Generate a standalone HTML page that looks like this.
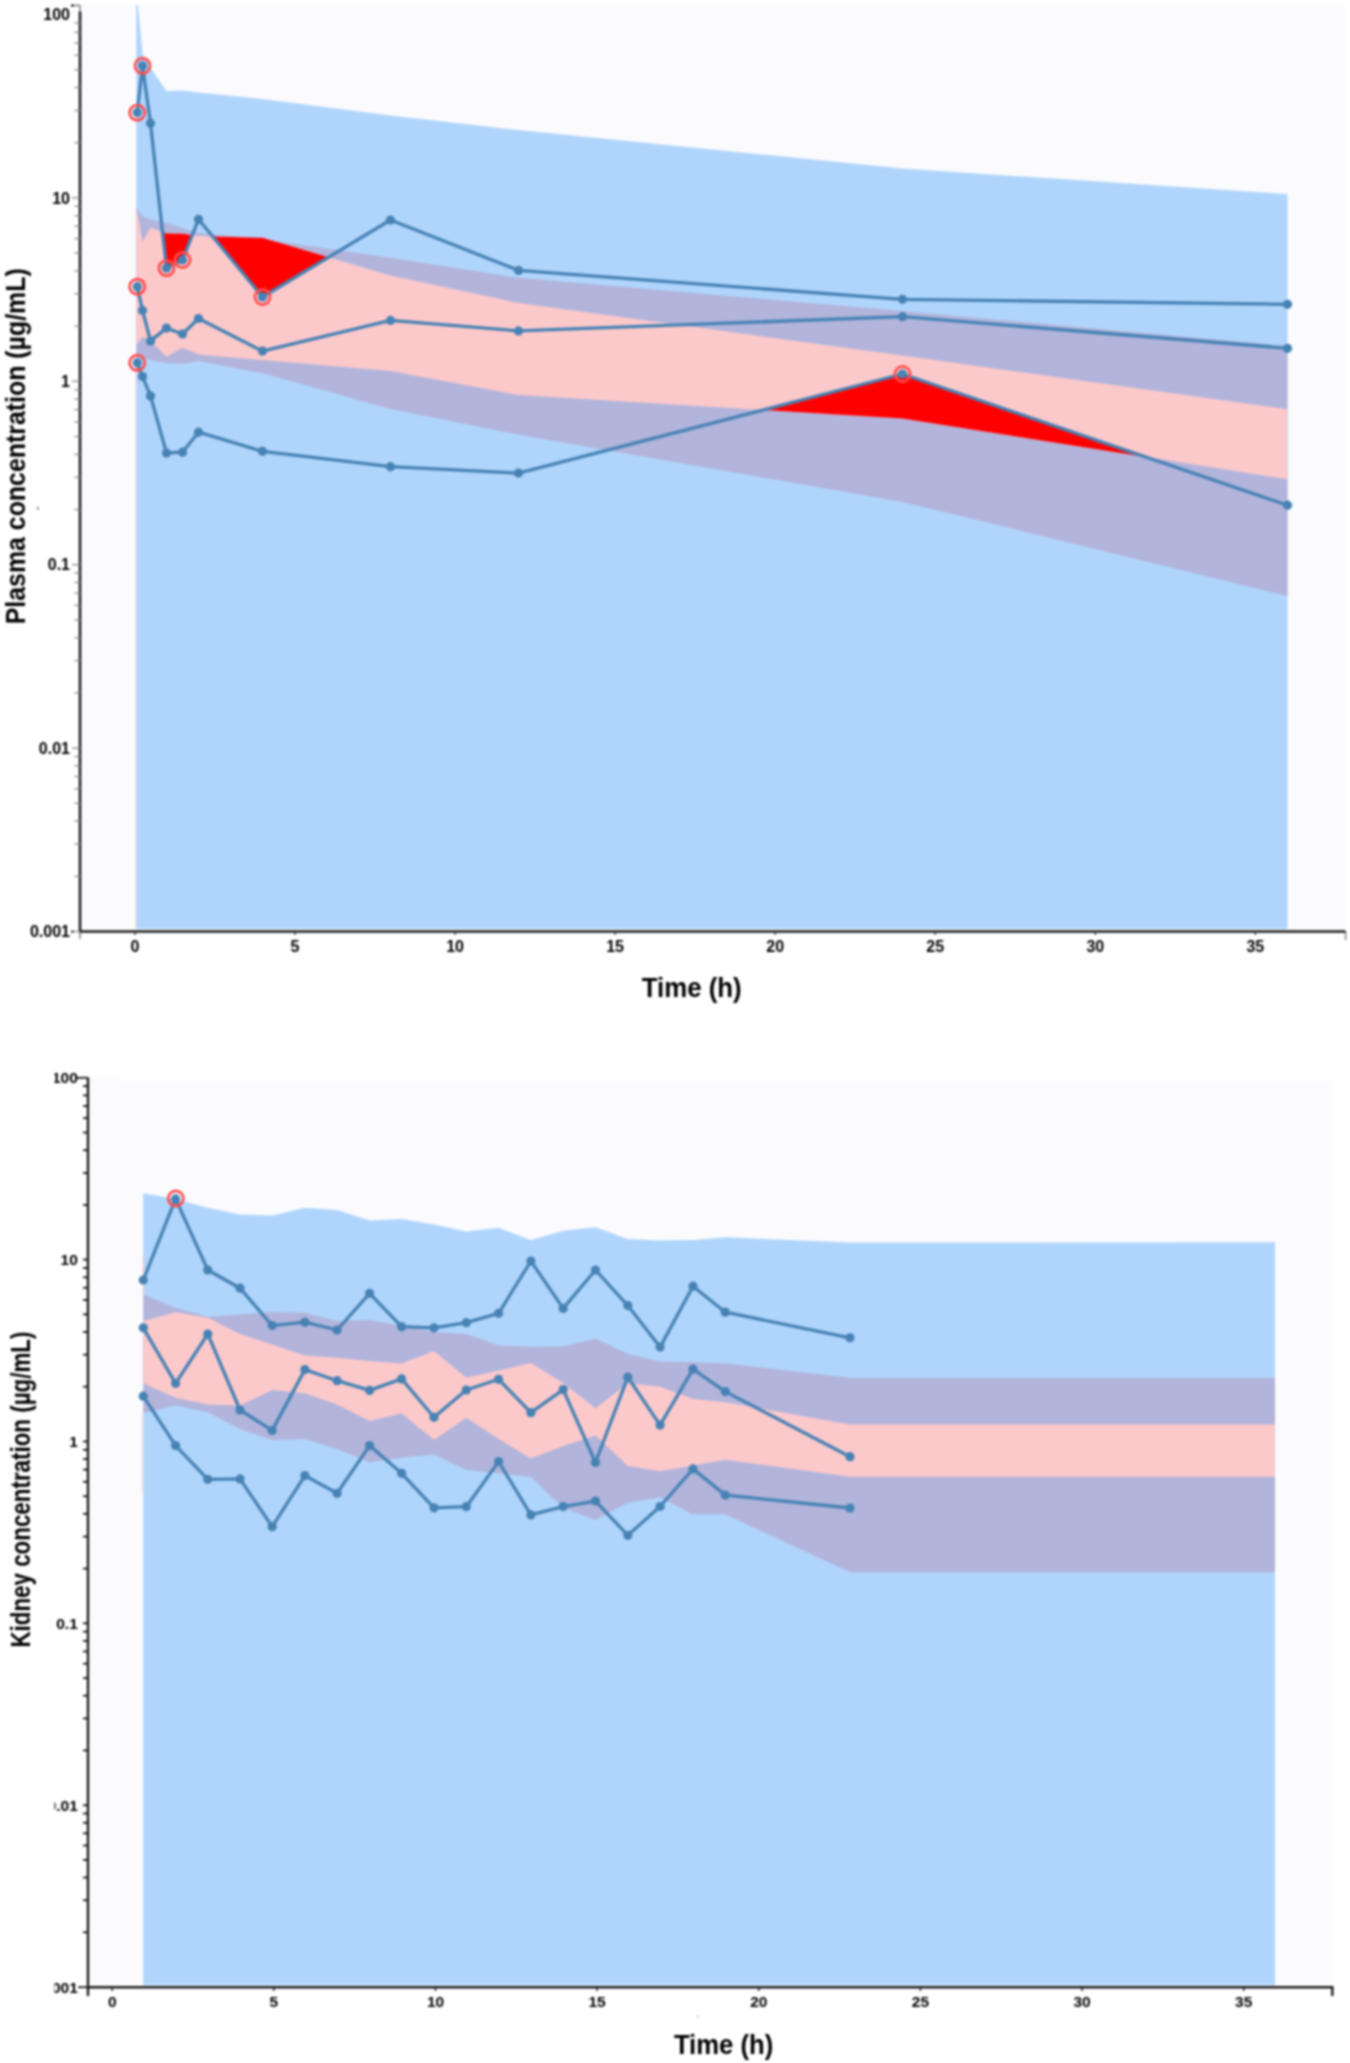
<!DOCTYPE html><html><head><meta charset="utf-8"><style>html,body{margin:0;padding:0;background:#fff;width:1350px;height:2063px;overflow:hidden}svg{display:block;filter:blur(0.9px)}text{font-family:"Liberation Sans",sans-serif}</style></head><body>
<svg width="1350" height="2063" viewBox="0 0 1350 2063">
<rect x="0" y="0" width="1350" height="2063" fill="#ffffff"/>
<rect x="81.5" y="4.5" width="1264" height="925" fill="#fbfbfe"/>
<defs>
<clipPath id="c1up"><polygon points="136.3,2.0 137.2,-4.0 142.5,54.5 150.5,67.8 166.5,91.0 182.5,90.5 198.5,92.5 262.5,98.9 390.5,115.6 518.5,130.0 902.5,168.5 1287.5,194.1 1287.5,409.3 902.5,355.6 518.5,303.0 390.5,275.6 262.5,237.8 198.5,236.0 182.5,233.8 166.5,233.5 150.5,227.6 142.5,242.0 137.2,212.0 136.3,207.0"/></clipPath>
<clipPath id="c1lo"><polygon points="136.3,344.0 137.2,344.0 142.5,336.7 150.5,340.4 166.5,356.7 182.5,347.8 198.5,354.4 262.5,360.0 390.5,371.1 518.5,395.0 902.5,418.5 1287.5,479.3 1287.5,929.0 902.5,929.0 518.5,929.0 390.5,929.0 262.5,929.0 198.5,929.0 182.5,929.0 166.5,929.0 150.5,929.0 142.5,929.0 137.2,929.0 136.3,929.0"/></clipPath>
<clipPath id="c1mid"><polygon points="136.3,207.0 137.2,212.0 142.5,242.0 150.5,227.6 166.5,233.5 182.5,233.8 198.5,236.0 262.5,237.8 390.5,275.6 518.5,303.0 902.5,355.6 1287.5,409.3 1287.5,479.3 902.5,418.5 518.5,395.0 390.5,371.1 262.5,360.0 198.5,354.4 182.5,347.8 166.5,356.7 150.5,340.4 142.5,336.7 137.2,344.0 136.3,344.0"/></clipPath>
<clipPath id="c1area"><rect x="81.5" y="4.5" width="1264" height="925"/></clipPath>
<clipPath id="c1belowU"><polygon points="136.3,207.0 137.2,212.0 142.5,242.0 150.5,227.6 166.5,233.5 182.5,233.8 198.5,236.0 262.5,237.8 390.5,275.6 518.5,303.0 902.5,355.6 1287.5,409.3 1287.5,929.0 902.5,929.0 518.5,929.0 390.5,929.0 262.5,929.0 198.5,929.0 182.5,929.0 166.5,929.0 150.5,929.0 142.5,929.0 137.2,929.0 136.3,929.0"/></clipPath>
<clipPath id="c1aboveL"><polygon points="136.3,0.0 137.2,0.0 142.5,0.0 150.5,0.0 166.5,0.0 182.5,0.0 198.5,0.0 262.5,0.0 390.5,0.0 518.5,0.0 902.5,0.0 1287.5,0.0 1287.5,479.3 902.5,418.5 518.5,395.0 390.5,371.1 262.5,360.0 198.5,354.4 182.5,347.8 166.5,356.7 150.5,340.4 142.5,336.7 137.2,344.0 136.3,344.0"/></clipPath>
</defs>
<g clip-path="url(#c1area)">
<polygon points="136.3,2.0 137.2,-4.0 142.5,54.5 150.5,67.8 166.5,91.0 182.5,90.5 198.5,92.5 262.5,98.9 390.5,115.6 518.5,130.0 902.5,168.5 1287.5,194.1 1287.5,929.0 902.5,929.0 518.5,929.0 390.5,929.0 262.5,929.0 198.5,929.0 182.5,929.0 166.5,929.0 150.5,929.0 142.5,929.0 137.2,929.0 136.3,929.0" fill="#b0d5fc"/>
<polygon points="136.3,207.0 137.2,209.0 142.5,216.0 150.5,219.4 166.5,223.0 182.5,228.3 198.5,233.0 262.5,239.0 390.5,257.8 518.5,277.8 902.5,311.0 1287.5,346.0 1287.5,596.0 902.5,501.9 518.5,434.8 390.5,408.9 262.5,373.3 198.5,361.1 182.5,364.0 166.5,363.3 150.5,360.0 142.5,358.0 137.2,356.7 136.3,356.7" fill="#b2b4db"/>
<polygon points="136.3,207.0 137.2,209.0 142.5,216.0 150.5,219.4 166.5,223.0 182.5,228.3 198.5,233.0 262.5,239.0 390.5,257.8 518.5,277.8 902.5,311.0 1287.5,346.0 1287.5,596.0 902.5,501.9 518.5,434.8 390.5,408.9 262.5,373.3 198.5,361.1 182.5,364.0 166.5,363.3 150.5,360.0 142.5,358.0 137.2,356.7 136.3,356.7" fill="#fcc9cb" clip-path="url(#c1mid)"/>
<rect x="135.2" y="356" width="1.3" height="573" fill="#fcc9cb" opacity="0.7"/>
<polygon points="162.52,232.03 166.50,268.10 182.50,260.00 192.27,235.14 192.27,235.14 182.50,233.80 166.50,233.50 162.52,232.03" fill="#ff0000"/>
<polygon points="212.58,236.40 262.50,297.00 328.51,257.29 328.51,257.29 262.50,237.80 212.58,236.40" fill="#ff0000"/>
<polygon points="763.12,409.97 902.50,374.00 1145.86,456.93 1145.86,456.93 902.50,418.50 763.12,409.97" fill="#ff0000"/>
</g>
<polyline points="137.2,112.6 142.5,65.8 150.5,123.2 166.5,268.1 182.5,260.0 198.5,219.3 262.5,297.0 390.5,220.0 518.5,270.4 902.5,299.3 1287.5,304.3" fill="none" stroke="#4682b4" stroke-width="3.3" stroke-linejoin="round"/><circle cx="137.2" cy="112.6" r="4.6" fill="#4682b4"/><circle cx="142.5" cy="65.8" r="4.6" fill="#4682b4"/><circle cx="150.5" cy="123.2" r="4.6" fill="#4682b4"/><circle cx="166.5" cy="268.1" r="4.6" fill="#4682b4"/><circle cx="182.5" cy="260.0" r="4.6" fill="#4682b4"/><circle cx="198.5" cy="219.3" r="4.6" fill="#4682b4"/><circle cx="262.5" cy="297.0" r="4.6" fill="#4682b4"/><circle cx="390.5" cy="220.0" r="4.6" fill="#4682b4"/><circle cx="518.5" cy="270.4" r="4.6" fill="#4682b4"/><circle cx="902.5" cy="299.3" r="4.6" fill="#4682b4"/><circle cx="1287.5" cy="304.3" r="4.6" fill="#4682b4"/>
<polyline points="137.2,286.7 142.5,310.4 150.5,340.9 166.5,328.1 182.5,334.0 198.5,318.5 262.5,351.1 390.5,320.4 518.5,330.9 902.5,316.7 1287.5,348.3" fill="none" stroke="#4682b4" stroke-width="3.3" stroke-linejoin="round"/><circle cx="137.2" cy="286.7" r="4.6" fill="#4682b4"/><circle cx="142.5" cy="310.4" r="4.6" fill="#4682b4"/><circle cx="150.5" cy="340.9" r="4.6" fill="#4682b4"/><circle cx="166.5" cy="328.1" r="4.6" fill="#4682b4"/><circle cx="182.5" cy="334.0" r="4.6" fill="#4682b4"/><circle cx="198.5" cy="318.5" r="4.6" fill="#4682b4"/><circle cx="262.5" cy="351.1" r="4.6" fill="#4682b4"/><circle cx="390.5" cy="320.4" r="4.6" fill="#4682b4"/><circle cx="518.5" cy="330.9" r="4.6" fill="#4682b4"/><circle cx="902.5" cy="316.7" r="4.6" fill="#4682b4"/><circle cx="1287.5" cy="348.3" r="4.6" fill="#4682b4"/>
<polyline points="137.2,362.8 142.5,376.5 150.5,395.9 166.5,453.0 182.5,452.2 198.5,432.2 262.5,451.3 390.5,466.7 518.5,473.1 902.5,374.0 1287.5,505.2" fill="none" stroke="#4682b4" stroke-width="3.3" stroke-linejoin="round"/><circle cx="137.2" cy="362.8" r="4.6" fill="#4682b4"/><circle cx="142.5" cy="376.5" r="4.6" fill="#4682b4"/><circle cx="150.5" cy="395.9" r="4.6" fill="#4682b4"/><circle cx="166.5" cy="453.0" r="4.6" fill="#4682b4"/><circle cx="182.5" cy="452.2" r="4.6" fill="#4682b4"/><circle cx="198.5" cy="432.2" r="4.6" fill="#4682b4"/><circle cx="262.5" cy="451.3" r="4.6" fill="#4682b4"/><circle cx="390.5" cy="466.7" r="4.6" fill="#4682b4"/><circle cx="518.5" cy="473.1" r="4.6" fill="#4682b4"/><circle cx="902.5" cy="374.0" r="4.6" fill="#4682b4"/><circle cx="1287.5" cy="505.2" r="4.6" fill="#4682b4"/>
<circle cx="137.2" cy="112.6" r="7.6" fill="none" stroke="#ff4d4d" stroke-width="2.7"/>
<circle cx="142.5" cy="65.8" r="7.6" fill="none" stroke="#ff4d4d" stroke-width="2.7"/>
<circle cx="166.5" cy="268.1" r="7.6" fill="none" stroke="#ff4d4d" stroke-width="2.7"/>
<circle cx="182.5" cy="260.0" r="7.6" fill="none" stroke="#ff4d4d" stroke-width="2.7"/>
<circle cx="262.5" cy="297.0" r="7.6" fill="none" stroke="#ff4d4d" stroke-width="2.7"/>
<circle cx="137.2" cy="286.7" r="7.6" fill="none" stroke="#ff4d4d" stroke-width="2.7"/>
<circle cx="137.2" cy="362.8" r="7.6" fill="none" stroke="#ff4d4d" stroke-width="2.7"/>
<circle cx="902.5" cy="374.0" r="7.6" fill="none" stroke="#ff4d4d" stroke-width="2.7"/>
<g fill="none">
<path d="M72,5.5 H80 V13" stroke="#777" stroke-width="1.3"/>
<circle cx="72.3" cy="5.5" r="1.3" fill="#111"/>
<path d="M80,11.5 V931.6" stroke="#1a1a1a" stroke-width="2.5"/>
<path d="M74.5,142.7 H80" stroke="#888" stroke-width="1.3"/>
<path d="M74.5,110.4 H80" stroke="#888" stroke-width="1.3"/>
<path d="M74.5,87.5 H80" stroke="#888" stroke-width="1.3"/>
<path d="M74.5,69.7 H80" stroke="#888" stroke-width="1.3"/>
<path d="M74.5,55.2 H80" stroke="#888" stroke-width="1.3"/>
<path d="M74.5,42.9 H80" stroke="#888" stroke-width="1.3"/>
<path d="M74.5,32.3 H80" stroke="#888" stroke-width="1.3"/>
<path d="M74.5,22.9 H80" stroke="#888" stroke-width="1.3"/>
<path d="M74.5,326.1 H80" stroke="#888" stroke-width="1.3"/>
<path d="M74.5,293.8 H80" stroke="#888" stroke-width="1.3"/>
<path d="M74.5,270.9 H80" stroke="#888" stroke-width="1.3"/>
<path d="M74.5,253.1 H80" stroke="#888" stroke-width="1.3"/>
<path d="M74.5,238.6 H80" stroke="#888" stroke-width="1.3"/>
<path d="M74.5,226.3 H80" stroke="#888" stroke-width="1.3"/>
<path d="M74.5,215.7 H80" stroke="#888" stroke-width="1.3"/>
<path d="M74.5,206.3 H80" stroke="#888" stroke-width="1.3"/>
<path d="M74.5,509.5 H80" stroke="#888" stroke-width="1.3"/>
<path d="M74.5,477.2 H80" stroke="#888" stroke-width="1.3"/>
<path d="M74.5,454.3 H80" stroke="#888" stroke-width="1.3"/>
<path d="M74.5,436.5 H80" stroke="#888" stroke-width="1.3"/>
<path d="M74.5,422.0 H80" stroke="#888" stroke-width="1.3"/>
<path d="M74.5,409.7 H80" stroke="#888" stroke-width="1.3"/>
<path d="M74.5,399.1 H80" stroke="#888" stroke-width="1.3"/>
<path d="M74.5,389.7 H80" stroke="#888" stroke-width="1.3"/>
<path d="M74.5,692.9 H80" stroke="#888" stroke-width="1.3"/>
<path d="M74.5,660.6 H80" stroke="#888" stroke-width="1.3"/>
<path d="M74.5,637.7 H80" stroke="#888" stroke-width="1.3"/>
<path d="M74.5,619.9 H80" stroke="#888" stroke-width="1.3"/>
<path d="M74.5,605.4 H80" stroke="#888" stroke-width="1.3"/>
<path d="M74.5,593.1 H80" stroke="#888" stroke-width="1.3"/>
<path d="M74.5,582.5 H80" stroke="#888" stroke-width="1.3"/>
<path d="M74.5,573.1 H80" stroke="#888" stroke-width="1.3"/>
<path d="M74.5,876.3 H80" stroke="#888" stroke-width="1.3"/>
<path d="M74.5,844.0 H80" stroke="#888" stroke-width="1.3"/>
<path d="M74.5,821.1 H80" stroke="#888" stroke-width="1.3"/>
<path d="M74.5,803.3 H80" stroke="#888" stroke-width="1.3"/>
<path d="M74.5,788.8 H80" stroke="#888" stroke-width="1.3"/>
<path d="M74.5,776.5 H80" stroke="#888" stroke-width="1.3"/>
<path d="M74.5,765.9 H80" stroke="#888" stroke-width="1.3"/>
<path d="M74.5,756.5 H80" stroke="#888" stroke-width="1.3"/>
<path d="M72,197.9 H80" stroke="#888" stroke-width="1.3"/>
<path d="M72,381.3 H80" stroke="#888" stroke-width="1.3"/>
<path d="M72,564.7 H80" stroke="#888" stroke-width="1.3"/>
<path d="M72,748.1 H80" stroke="#888" stroke-width="1.3"/>
<path d="M72,931.5 H80" stroke="#888" stroke-width="1.3"/>
<circle cx="72.3" cy="931.6" r="1.2" fill="#111"/>
<path d="M80,931.6 V939.3" stroke="#777" stroke-width="1.4"/>
<path d="M1345.6,931.6 V940" stroke="#777" stroke-width="1.4"/>
<path d="M80,931.6 H1345.6" stroke="#1a1a1a" stroke-width="2.5"/>
<path d="M135.0,931.6 V935" stroke="#333" stroke-width="1.4"/>
<path d="M295.0,931.6 V935" stroke="#333" stroke-width="1.4"/>
<path d="M455.1,931.6 V935" stroke="#333" stroke-width="1.4"/>
<path d="M615.1,931.6 V935" stroke="#333" stroke-width="1.4"/>
<path d="M775.2,931.6 V935" stroke="#333" stroke-width="1.4"/>
<path d="M935.2,931.6 V935" stroke="#333" stroke-width="1.4"/>
<path d="M1095.3,931.6 V935" stroke="#333" stroke-width="1.4"/>
<path d="M1255.3,931.6 V935" stroke="#333" stroke-width="1.4"/>
</g>
<g fill="#000000" font-size="16" font-weight="bold" text-anchor="end">
<text x="70" y="20.2">100</text>
<text x="70" y="203.6">10</text>
<text x="70" y="387.0">1</text>
<text x="70" y="570.4">0.1</text>
<text x="70" y="753.8">0.01</text>
<text x="70" y="937.2">0.001</text>
</g>
<g fill="#000000" font-size="16" font-weight="bold" text-anchor="middle">
<text x="135.0" y="951.6">0</text>
<text x="295.0" y="951.6">5</text>
<text x="455.1" y="951.6">10</text>
<text x="615.1" y="951.6">15</text>
<text x="775.2" y="951.6">20</text>
<text x="935.2" y="951.6">25</text>
<text x="1095.3" y="951.6">30</text>
<text x="1255.3" y="951.6">35</text>
</g>
<text x="691.7" y="997" font-size="27" font-weight="bold" fill="#000" text-anchor="middle" textLength="100" lengthAdjust="spacingAndGlyphs">Time (h)</text>
<text transform="translate(25.2,446.3) rotate(-90)" x="0" y="0" font-size="27" font-weight="bold" fill="#000" text-anchor="middle" textLength="356" lengthAdjust="spacingAndGlyphs">Plasma concentration (µg/mL)</text>
<rect x="91" y="1075.5" width="30" height="910" fill="#fbfbfe"/>
<rect x="91" y="1080.8" width="1241" height="904.4" fill="#fbfbfe"/>
<defs>
<clipPath id="c2up"><polygon points="143.3,1193.3 175.6,1198.9 207.8,1207.8 240.0,1214.4 272.2,1215.6 304.9,1207.8 337.1,1210.0 369.6,1220.4 401.6,1218.9 434.0,1224.4 466.3,1231.6 498.6,1227.8 530.9,1240.0 563.2,1230.7 595.5,1227.3 627.8,1238.9 660.1,1240.4 693.0,1240.0 725.3,1237.3 850.0,1242.5 1274.9,1242.2 1274.9,1424.4 850.0,1424.4 725.3,1402.2 693.0,1398.9 660.1,1386.7 627.8,1383.3 595.5,1408.2 563.2,1383.0 530.9,1363.0 498.6,1370.5 466.3,1377.8 434.0,1351.0 401.6,1363.5 369.6,1361.1 337.1,1357.8 304.9,1355.6 272.2,1344.4 240.0,1334.0 207.8,1317.8 175.6,1312.2 143.3,1321.1"/></clipPath>
<clipPath id="c2mid"><polygon points="143.3,1321.1 175.6,1312.2 207.8,1317.8 240.0,1334.0 272.2,1344.4 304.9,1355.6 337.1,1357.8 369.6,1361.1 401.6,1363.5 434.0,1351.0 466.3,1377.8 498.6,1370.5 530.9,1363.0 563.2,1383.0 595.5,1408.2 627.8,1383.3 660.1,1386.7 693.0,1398.9 725.3,1402.2 850.0,1424.4 1274.9,1424.4 1274.9,1476.7 850.0,1476.7 725.3,1459.8 693.0,1465.5 660.1,1471.3 627.8,1466.0 595.5,1435.6 563.2,1446.1 530.9,1458.5 498.6,1439.0 466.3,1417.8 434.0,1440.0 401.6,1413.3 369.6,1421.1 337.1,1404.4 304.9,1393.3 272.2,1390.0 240.0,1405.6 207.8,1404.4 175.6,1397.8 143.3,1383.3"/></clipPath>
<clipPath id="c2lo"><polygon points="143.3,1383.3 175.6,1397.8 207.8,1404.4 240.0,1405.6 272.2,1390.0 304.9,1393.3 337.1,1404.4 369.6,1421.1 401.6,1413.3 434.0,1440.0 466.3,1417.8 498.6,1439.0 530.9,1458.5 563.2,1446.1 595.5,1435.6 627.8,1466.0 660.1,1471.3 693.0,1465.5 725.3,1459.8 850.0,1476.7 1274.9,1476.7 1274.9,1985.2 850.0,1985.2 725.3,1985.2 693.0,1985.2 660.1,1985.2 627.8,1985.2 595.5,1985.2 563.2,1985.2 530.9,1985.2 498.6,1985.2 466.3,1985.2 434.0,1985.2 401.6,1985.2 369.6,1985.2 337.1,1985.2 304.9,1985.2 272.2,1985.2 240.0,1985.2 207.8,1985.2 175.6,1985.2 143.3,1985.2"/></clipPath>
</defs>
<polygon points="143.3,1193.3 175.6,1198.9 207.8,1207.8 240.0,1214.4 272.2,1215.6 304.9,1207.8 337.1,1210.0 369.6,1220.4 401.6,1218.9 434.0,1224.4 466.3,1231.6 498.6,1227.8 530.9,1240.0 563.2,1230.7 595.5,1227.3 627.8,1238.9 660.1,1240.4 693.0,1240.0 725.3,1237.3 850.0,1242.5 1274.9,1242.2 1274.9,1985.2 850.0,1985.2 725.3,1985.2 693.0,1985.2 660.1,1985.2 627.8,1985.2 595.5,1985.2 563.2,1985.2 530.9,1985.2 498.6,1985.2 466.3,1985.2 434.0,1985.2 401.6,1985.2 369.6,1985.2 337.1,1985.2 304.9,1985.2 272.2,1985.2 240.0,1985.2 207.8,1985.2 175.6,1985.2 143.3,1985.2" fill="#b0d5fc"/>
<polygon points="143.3,1294.4 175.6,1307.8 207.8,1316.7 240.0,1314.4 272.2,1312.2 304.9,1312.7 337.1,1321.1 369.6,1320.0 401.6,1326.0 434.0,1332.0 466.3,1334.0 498.6,1345.3 530.9,1346.7 563.2,1346.5 595.5,1338.5 627.8,1353.8 660.1,1361.6 693.0,1362.2 725.3,1363.3 850.0,1377.8 1274.9,1377.8 1274.9,1572.2 850.0,1572.2 725.3,1514.4 693.0,1514.4 660.1,1497.5 627.8,1502.8 595.5,1520.1 563.2,1507.7 530.9,1476.9 498.6,1473.3 466.3,1470.0 434.0,1454.4 401.6,1457.8 369.6,1462.2 337.1,1448.9 304.9,1438.9 272.2,1440.0 240.0,1428.9 207.8,1412.2 175.6,1405.6 143.3,1413.3" fill="#b2b4db"/>
<polygon points="143.3,1294.4 175.6,1307.8 207.8,1316.7 240.0,1314.4 272.2,1312.2 304.9,1312.7 337.1,1321.1 369.6,1320.0 401.6,1326.0 434.0,1332.0 466.3,1334.0 498.6,1345.3 530.9,1346.7 563.2,1346.5 595.5,1338.5 627.8,1353.8 660.1,1361.6 693.0,1362.2 725.3,1363.3 850.0,1377.8 1274.9,1377.8 1274.9,1572.2 850.0,1572.2 725.3,1514.4 693.0,1514.4 660.1,1497.5 627.8,1502.8 595.5,1520.1 563.2,1507.7 530.9,1476.9 498.6,1473.3 466.3,1470.0 434.0,1454.4 401.6,1457.8 369.6,1462.2 337.1,1448.9 304.9,1438.9 272.2,1440.0 240.0,1428.9 207.8,1412.2 175.6,1405.6 143.3,1413.3" fill="#fcc9cb" clip-path="url(#c2mid)"/>
<rect x="142.6" y="1256.7" width="1.4" height="38" fill="#fcc9cb"/>
<rect x="141.8" y="1413" width="1.5" height="80" fill="#fcc9cb" opacity="0.6"/>
<polyline points="143.3,1280.0 175.6,1198.9 207.8,1270.0 240.0,1288.2 272.2,1325.6 304.9,1322.2 337.1,1330.0 369.6,1293.3 401.6,1326.7 434.0,1327.8 466.3,1322.7 498.6,1313.3 530.9,1261.1 563.2,1308.4 595.5,1270.0 627.8,1305.6 660.1,1347.1 693.0,1286.2 725.3,1312.2 850.0,1337.8" fill="none" stroke="#4682b4" stroke-width="3.3" stroke-linejoin="round"/><circle cx="143.3" cy="1280.0" r="4.6" fill="#4682b4"/><circle cx="175.6" cy="1198.9" r="4.6" fill="#4682b4"/><circle cx="207.8" cy="1270.0" r="4.6" fill="#4682b4"/><circle cx="240.0" cy="1288.2" r="4.6" fill="#4682b4"/><circle cx="272.2" cy="1325.6" r="4.6" fill="#4682b4"/><circle cx="304.9" cy="1322.2" r="4.6" fill="#4682b4"/><circle cx="337.1" cy="1330.0" r="4.6" fill="#4682b4"/><circle cx="369.6" cy="1293.3" r="4.6" fill="#4682b4"/><circle cx="401.6" cy="1326.7" r="4.6" fill="#4682b4"/><circle cx="434.0" cy="1327.8" r="4.6" fill="#4682b4"/><circle cx="466.3" cy="1322.7" r="4.6" fill="#4682b4"/><circle cx="498.6" cy="1313.3" r="4.6" fill="#4682b4"/><circle cx="530.9" cy="1261.1" r="4.6" fill="#4682b4"/><circle cx="563.2" cy="1308.4" r="4.6" fill="#4682b4"/><circle cx="595.5" cy="1270.0" r="4.6" fill="#4682b4"/><circle cx="627.8" cy="1305.6" r="4.6" fill="#4682b4"/><circle cx="660.1" cy="1347.1" r="4.6" fill="#4682b4"/><circle cx="693.0" cy="1286.2" r="4.6" fill="#4682b4"/><circle cx="725.3" cy="1312.2" r="4.6" fill="#4682b4"/><circle cx="850.0" cy="1337.8" r="4.6" fill="#4682b4"/>
<polyline points="143.3,1327.8 175.6,1383.3 207.8,1334.0 240.0,1410.0 272.2,1430.4 304.9,1369.6 337.1,1380.7 369.6,1390.4 401.6,1378.9 434.0,1417.3 466.3,1390.0 498.6,1379.3 530.9,1412.7 563.2,1389.6 595.5,1462.5 627.8,1377.1 660.1,1425.1 693.0,1369.2 725.3,1391.6 850.0,1456.7" fill="none" stroke="#4682b4" stroke-width="3.3" stroke-linejoin="round"/><circle cx="143.3" cy="1327.8" r="4.6" fill="#4682b4"/><circle cx="175.6" cy="1383.3" r="4.6" fill="#4682b4"/><circle cx="207.8" cy="1334.0" r="4.6" fill="#4682b4"/><circle cx="240.0" cy="1410.0" r="4.6" fill="#4682b4"/><circle cx="272.2" cy="1430.4" r="4.6" fill="#4682b4"/><circle cx="304.9" cy="1369.6" r="4.6" fill="#4682b4"/><circle cx="337.1" cy="1380.7" r="4.6" fill="#4682b4"/><circle cx="369.6" cy="1390.4" r="4.6" fill="#4682b4"/><circle cx="401.6" cy="1378.9" r="4.6" fill="#4682b4"/><circle cx="434.0" cy="1417.3" r="4.6" fill="#4682b4"/><circle cx="466.3" cy="1390.0" r="4.6" fill="#4682b4"/><circle cx="498.6" cy="1379.3" r="4.6" fill="#4682b4"/><circle cx="530.9" cy="1412.7" r="4.6" fill="#4682b4"/><circle cx="563.2" cy="1389.6" r="4.6" fill="#4682b4"/><circle cx="595.5" cy="1462.5" r="4.6" fill="#4682b4"/><circle cx="627.8" cy="1377.1" r="4.6" fill="#4682b4"/><circle cx="660.1" cy="1425.1" r="4.6" fill="#4682b4"/><circle cx="693.0" cy="1369.2" r="4.6" fill="#4682b4"/><circle cx="725.3" cy="1391.6" r="4.6" fill="#4682b4"/><circle cx="850.0" cy="1456.7" r="4.6" fill="#4682b4"/>
<polyline points="143.3,1396.2 175.6,1445.6 207.8,1479.3 240.0,1478.9 272.2,1526.7 304.9,1475.6 337.1,1493.3 369.6,1445.6 401.6,1473.3 434.0,1507.8 466.3,1506.7 498.6,1461.6 530.9,1514.9 563.2,1506.6 595.5,1501.1 627.8,1535.3 660.1,1506.5 693.0,1468.9 725.3,1495.1 850.0,1508.0" fill="none" stroke="#4682b4" stroke-width="3.3" stroke-linejoin="round"/><circle cx="143.3" cy="1396.2" r="4.6" fill="#4682b4"/><circle cx="175.6" cy="1445.6" r="4.6" fill="#4682b4"/><circle cx="207.8" cy="1479.3" r="4.6" fill="#4682b4"/><circle cx="240.0" cy="1478.9" r="4.6" fill="#4682b4"/><circle cx="272.2" cy="1526.7" r="4.6" fill="#4682b4"/><circle cx="304.9" cy="1475.6" r="4.6" fill="#4682b4"/><circle cx="337.1" cy="1493.3" r="4.6" fill="#4682b4"/><circle cx="369.6" cy="1445.6" r="4.6" fill="#4682b4"/><circle cx="401.6" cy="1473.3" r="4.6" fill="#4682b4"/><circle cx="434.0" cy="1507.8" r="4.6" fill="#4682b4"/><circle cx="466.3" cy="1506.7" r="4.6" fill="#4682b4"/><circle cx="498.6" cy="1461.6" r="4.6" fill="#4682b4"/><circle cx="530.9" cy="1514.9" r="4.6" fill="#4682b4"/><circle cx="563.2" cy="1506.6" r="4.6" fill="#4682b4"/><circle cx="595.5" cy="1501.1" r="4.6" fill="#4682b4"/><circle cx="627.8" cy="1535.3" r="4.6" fill="#4682b4"/><circle cx="660.1" cy="1506.5" r="4.6" fill="#4682b4"/><circle cx="693.0" cy="1468.9" r="4.6" fill="#4682b4"/><circle cx="725.3" cy="1495.1" r="4.6" fill="#4682b4"/><circle cx="850.0" cy="1508.0" r="4.6" fill="#4682b4"/>
<circle cx="175.8" cy="1198.5" r="7.6" fill="none" stroke="#ff4d4d" stroke-width="2.7"/>
<g stroke="#1a1a1a" fill="none">
<path d="M88,1077.5 V1987.2" stroke-width="2.4"/>
<path d="M83,1204.9 H87" stroke-width="1.8"/>
<path d="M83,1172.9 H87" stroke-width="1.8"/>
<path d="M83,1150.2 H87" stroke-width="1.8"/>
<path d="M83,1132.5 H87" stroke-width="1.8"/>
<path d="M83,1118.1 H87" stroke-width="1.8"/>
<path d="M83,1106.0 H87" stroke-width="1.8"/>
<path d="M83,1095.4 H87" stroke-width="1.8"/>
<path d="M83,1086.1 H87" stroke-width="1.8"/>
<path d="M83,1386.7 H87" stroke-width="1.8"/>
<path d="M83,1354.7 H87" stroke-width="1.8"/>
<path d="M83,1332.0 H87" stroke-width="1.8"/>
<path d="M83,1314.4 H87" stroke-width="1.8"/>
<path d="M83,1300.0 H87" stroke-width="1.8"/>
<path d="M83,1287.8 H87" stroke-width="1.8"/>
<path d="M83,1277.3 H87" stroke-width="1.8"/>
<path d="M83,1268.0 H87" stroke-width="1.8"/>
<path d="M83,1568.6 H87" stroke-width="1.8"/>
<path d="M83,1536.6 H87" stroke-width="1.8"/>
<path d="M83,1513.8 H87" stroke-width="1.8"/>
<path d="M83,1496.2 H87" stroke-width="1.8"/>
<path d="M83,1481.8 H87" stroke-width="1.8"/>
<path d="M83,1469.6 H87" stroke-width="1.8"/>
<path d="M83,1459.1 H87" stroke-width="1.8"/>
<path d="M83,1449.8 H87" stroke-width="1.8"/>
<path d="M83,1750.4 H87" stroke-width="1.8"/>
<path d="M83,1718.4 H87" stroke-width="1.8"/>
<path d="M83,1695.7 H87" stroke-width="1.8"/>
<path d="M83,1678.1 H87" stroke-width="1.8"/>
<path d="M83,1663.7 H87" stroke-width="1.8"/>
<path d="M83,1651.5 H87" stroke-width="1.8"/>
<path d="M83,1640.9 H87" stroke-width="1.8"/>
<path d="M83,1631.6 H87" stroke-width="1.8"/>
<path d="M83,1932.3 H87" stroke-width="1.8"/>
<path d="M83,1900.2 H87" stroke-width="1.8"/>
<path d="M83,1877.5 H87" stroke-width="1.8"/>
<path d="M83,1859.9 H87" stroke-width="1.8"/>
<path d="M83,1845.5 H87" stroke-width="1.8"/>
<path d="M83,1833.3 H87" stroke-width="1.8"/>
<path d="M83,1822.8 H87" stroke-width="1.8"/>
<path d="M83,1813.5 H87" stroke-width="1.8"/>
<path d="M77,1077.8 H88" stroke-width="1.8"/>
<path d="M83,1259.6 H87" stroke-width="1.8"/>
<path d="M83,1441.5 H87" stroke-width="1.8"/>
<path d="M83,1623.3 H87" stroke-width="1.8"/>
<path d="M83,1805.2 H87" stroke-width="1.8"/>
<path d="M78,1987.2 H88"  stroke-width="1.8"/>
<path d="M88,1996 V1987.2 H1332.3 V1996" stroke-width="2.4"/>
<path d="M112.2,1987 V1991" stroke-width="1.4"/>
<path d="M273.8,1987 V1991" stroke-width="1.4"/>
<path d="M435.5,1987 V1991" stroke-width="1.4"/>
<path d="M597.1,1987 V1991" stroke-width="1.4"/>
<path d="M758.8,1987 V1991" stroke-width="1.4"/>
<path d="M920.4,1987 V1991" stroke-width="1.4"/>
<path d="M1082.1,1987 V1991" stroke-width="1.4"/>
<path d="M1243.7,1987 V1991" stroke-width="1.4"/>
</g>
<defs><clipPath id="c2lab"><rect x="54.5" y="1050" width="40" height="960"/></clipPath></defs>
<g fill="#000000" font-size="15.5" font-weight="bold" text-anchor="end" clip-path="url(#c2lab)">
<text x="77.8" y="1083.4">100</text>
<text x="77.8" y="1265.2">10</text>
<text x="77.8" y="1447.1">1</text>
<text x="77.8" y="1628.9">0.1</text>
<text x="77.8" y="1810.8">0.01</text>
<text x="77.8" y="1992.6">0.001</text>
</g>
<g fill="#000000" font-size="15.5" font-weight="bold" text-anchor="middle">
<text x="112.2" y="2006.6">0</text>
<text x="273.8" y="2006.6">5</text>
<text x="435.5" y="2006.6">10</text>
<text x="597.1" y="2006.6">15</text>
<text x="758.8" y="2006.6">20</text>
<text x="920.4" y="2006.6">25</text>
<text x="1082.1" y="2006.6">30</text>
<text x="1243.7" y="2006.6">35</text>
</g>
<text x="723.6" y="2054" font-size="27" font-weight="bold" fill="#000" text-anchor="middle" textLength="99.4" lengthAdjust="spacingAndGlyphs">Time (h)</text>
<text transform="translate(30,1489.6) rotate(-90)" x="0" y="0" font-size="27" font-weight="bold" fill="#000" text-anchor="middle" textLength="316" lengthAdjust="spacingAndGlyphs">Kidney concentration (µg/mL)</text>
<ellipse cx="37.9" cy="508.2" rx="1.1" ry="1.9" fill="#999"/>
<ellipse cx="697.8" cy="2016.7" rx="1.1" ry="0.9" fill="#bbb"/>
</svg></body></html>
